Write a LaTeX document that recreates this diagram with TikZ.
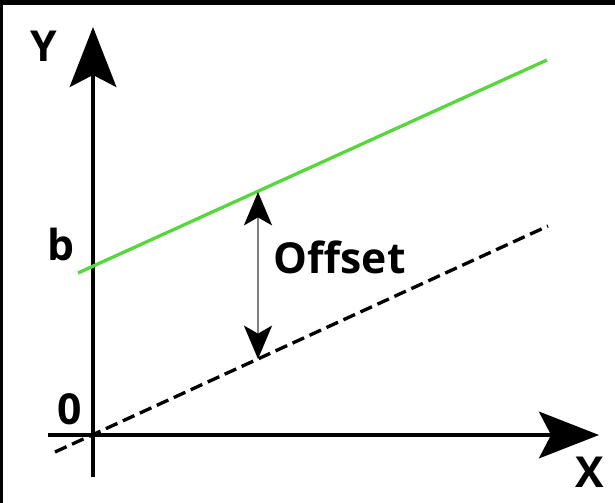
\documentclass[tikz,border=0pt]{standalone}
\usepackage{fontspec}
\setmainfont{Open Sans}
\usetikzlibrary{arrows.meta}
\definecolor{linegreen}{RGB}{88,214,62}
\tikzset{
    axislabel/.style={font=\bfseries\fontsize{32}{37}\selectfont, inner sep=0pt},
    bigtip/.style={-{Stealth[length=45pt, width=35pt, inset=9pt]}},
}

\begin{document}
\begin{tikzpicture}[x=0.75pt, y=-0.75pt, line width=2.5pt]
    \useasboundingbox (0,0) rectangle (615,503);
    % Frame edges
    \fill[black] (0,0) rectangle (615,5);
    \fill[black] (0,0) rectangle (3,503);

    % Axes
    \coordinate (O) at (93,435);
    \coordinate (ybot) at (93,477);
    \coordinate (ytop) at (93,27);
    \coordinate (xleft) at (48,435);
    \coordinate (xright) at (599,435);
    \draw[bigtip] (ybot) -- (ytop);
    \draw[bigtip] (xleft) -- (xright);

    % Axis labels
    \node[axislabel] (ylab) at (44,46) {Y};
    \node[axislabel] (xlab) at (590,472) {X};
    \node[axislabel] (zero) at (70,409) {0};
    \node[axislabel] (blab) at (61,244) {b};

    % Shifted line (green) and line through the origin (dashed)
    \coordinate (g1) at (78,273);
    \coordinate (g2) at (547,60);
    \coordinate (d1) at (55,452);
    \coordinate (d2) at (548,226);
    \draw[linegreen] (g1) -- (g2);
    \draw[dash pattern=on 9.5pt off 4.5pt] (d1) -- (d2);

    % Offset between the two lines
    \coordinate (otop) at (258,192);
    \coordinate (obot) at (258,359);
    \draw[gray, line width=2.2pt,
          {Stealth[length=25pt, width=21pt, inset=6pt, black]}-{Stealth[length=25pt, width=21pt, inset=6pt, black]}]
        (otop) -- (obot);
    \node[axislabel, anchor=west] (offset) at (272,257) {Offset};
\end{tikzpicture}
\end{document}
